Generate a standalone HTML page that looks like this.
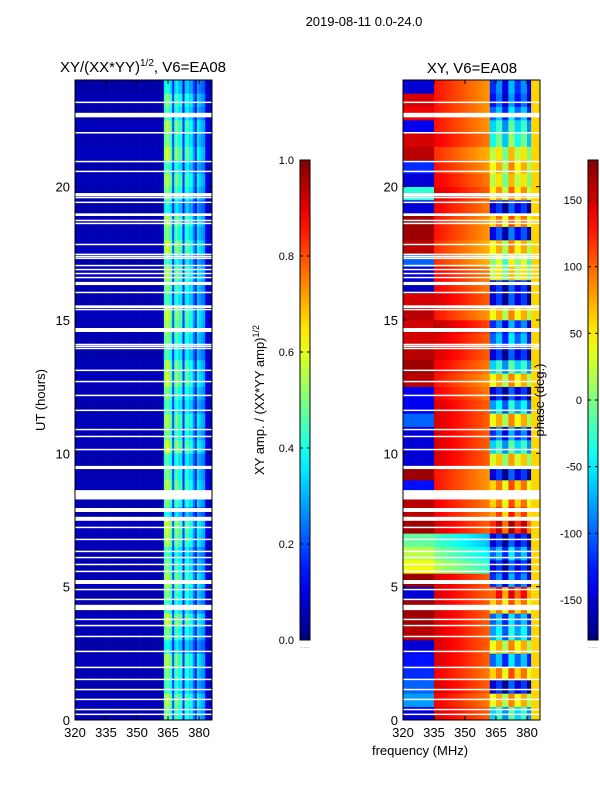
<!DOCTYPE html>
<html><head><meta charset="utf-8"><style>
body{margin:0;background:#fff;}
svg text{font-family:"Liberation Sans",sans-serif;}
</style></head><body>
<svg id="fig" width="600" height="800" xmlns="http://www.w3.org/2000/svg">
<rect width="600" height="800" fill="#fff"/>
<text x="364" y="26" font-size="13" text-anchor="middle">2019-08-11 0.0-24.0</text>
<text x="143" y="72" font-size="15" text-anchor="middle">XY/(XX*YY)<tspan font-size="10" dy="-6">1/2</tspan><tspan dy="6">, V6=EA08</tspan></text>
<text x="472" y="73" font-size="15" text-anchor="middle">XY, V6=EA08</text>
<g id="left"></g>
<g id="right"></g>
<g id="axes"></g>
<text transform="translate(45,400) rotate(-90)" font-size="13" text-anchor="middle">UT (hours)</text>
<text x="420" y="755" font-size="13" text-anchor="middle">frequency (MHz)</text>
<text transform="translate(264,400) rotate(-90)" font-size="13" text-anchor="middle">XY amp. / (XX*YY amp)<tspan font-size="9" dy="-5">1/2</tspan></text>
<text transform="translate(544,400) rotate(-90)" font-size="13" text-anchor="middle">phase (deg.)</text>
</svg>
<script>
// ---- data ----
const freqStart = 320, freqCount = 66; // 1 MHz bins 320..385
const ampProfile = [0.05,0.05,0.05,0.05,0.05,0.05,0.05,0.05,0.05,0.05,0.05,0.05,0.05,0.05,0.05,0.05,0.05,0.05,0.05,0.05,0.05,0.05,0.05,0.05,0.05,0.05,0.05,0.05,0.05,0.05,0.05,0.05,0.05,0.05,0.05,0.05,0.05,0.05,0.05,0.05,0.05,0.05,0.05,
 0.45,0.52,0.48,0.42,0.2,0.42,0.46,0.38,0.4,0.16,0.38,0.42,0.34,0.36,0.25,0.16,0.34,0.3,0.28,0.26,0.1,0.07,0.07];
// row scale, 0.5 h rows from 0h to 24h
const ampRowScale = [1.0,1.1,0.9,1.0,1.1,0.8,1.0,1.15,0.9,1.0,1.1,1.0,0.9,1.1,1.15,0.8,1.0,1.1,1.0,0.9,1.15,1.0,1.1,0.9,1.0,1.15,1.1,0.9,1.0,1.1,1.15,0.9,1.0,1.1,0.9,1.15,1.0,1.1,0.8,1.0,1.1,0.9,1.15,1.0,1.1,0.9,1.0,0.8];
// phase per 0.5 h row, listed from 0h upward
const phaseLow = [-150,-80,-100,-120,-130,-150,160,170,170,-150,170,40,20,-10,170,160,160,-130,170,-150,-150,-150,-100,-140,-140,160,170,160,150,150,160,150,-160,-150,-100,160,170,170,-150,-30,-150,-120,160,150,-140,140,150,-150];
const phaseMid = [150,140,150,140,150,150,150,150,150,150,150,20,0,-20,150,140,140,130,130,150,150,150,150,150,140,130,140,150,150,160,130,150,140,140,120,120,130,130,140,150,140,130,120,140,130,130,130,130];
const phaseHi = [-60,40,-150,60,-100,40,-80,-100,60,100,-120,-150,-100,-150,120,80,60,60,-150,30,-60,-120,40,-80,-150,40,-60,-150,-100,-120,40,-150,-150,20,0,40,-140,60,-150,50,20,40,20,-40,-60,-100,-130,-120];
const hiShift = [0,35,-25,50];
const gapStart = [23.14,22.6,22.0,20.92,20.55,19.64,19.57,19.39,18.9,18.71,18.6,17.81,17.44,17.36,17.29,17.02,16.87,16.72,16.57,16.31,16.01,15.45,15.37,14.55,14.06,13.99,13.91,13.09,12.67,12.15,11.59,10.87,10.61,10.12,9.41,8.27,7.8,7.47,7.2,6.75,6.3,6.07,5.81,5.55,5.1,4.87,4.5,4.12,3.75,3.52,3.11,2.55,1.95,1.5,1.12,0.75,0.37,0.19];
const gapDur = [0.05,0.17,0.05,0.05,0.05,0.12,0.05,0.05,0.1,0.05,0.05,0.05,0.05,0.05,0.05,0.05,0.05,0.05,0.05,0.12,0.05,0.1,0.05,0.15,0.05,0.05,0.05,0.05,0.05,0.05,0.05,0.05,0.05,0.05,0.12,0.35,0.15,0.15,0.05,0.05,0.05,0.05,0.05,0.05,0.15,0.05,0.05,0.2,0.05,0.05,0.05,0.05,0.05,0.05,0.05,0.05,0.05,0.05];
const xTicks = [320,335,350,365,380];
const yTicks = [0,5,10,15,20];
const ampTicks = ["0.0","0.2","0.4","0.6","0.8","1.0"];
const phaseTicks = [-150,-100,-50,0,50,100,150];

// ---- helpers ----
const NS="http://www.w3.org/2000/svg";
function jet(v){v=Math.max(0,Math.min(1,v));
 const r=Math.min(1,Math.max(0,Math.min(4*v-1.5,-4*v+4.5)));
 const g=Math.min(1,Math.max(0,Math.min(4*v-0.5,-4*v+3.5)));
 const b=Math.min(1,Math.max(0,Math.min(4*v+0.5,-4*v+2.5)));
 return `rgb(${Math.round(r*255)},${Math.round(g*255)},${Math.round(b*255)})`;}
function mk(tag,attrs,parent){const e=document.createElementNS(NS,tag);for(const k in attrs)e.setAttribute(k,attrs[k]);parent.appendChild(e);return e;}
const Y0=720,Y1=80;
function yScale(h){return Y0-(h/24)*(Y0-Y1);}
function xScale(x0,f){return x0+(f-320)*(137/66.3);}
const svg=document.getElementById('fig');
const axes=document.getElementById('axes');

function drawPanel(gid,x0,valueFn,name){
 const g=document.getElementById(gid);
 for(let r=0;r<48;r++){for(let c=0;c<freqCount;c++){
  const f=freqStart+c;
  const xa=xScale(x0,f), xb=Math.min(xScale(x0,f+1),x0+137);
  const ya=yScale((r+1)*0.5), yb=yScale(r*0.5);
  const el=mk('rect',{x:xa.toFixed(2),y:ya.toFixed(2),width:(xb-xa+0.3).toFixed(2),height:(yb-ya+0.3).toFixed(2),fill:jet(valueFn(r,c,f))},g);
  
  
 }}
 for(let i=0;i<gapStart.length;i++){
  const ya=yScale(gapStart[i]+gapDur[i]), yb=yScale(gapStart[i]);
  const el=mk('rect',{x:x0,y:ya.toFixed(2),width:137,height:Math.max(1.5,yb-ya).toFixed(2),fill:'#fff'},g);
  
  
 }
 const fr=mk('rect',{x:x0,y:Y1,width:137,height:Y0-Y1,fill:'none',stroke:'#000','stroke-width':1},axes);
 
 
 xTicks.forEach(t=>{const x=xScale(x0,t);
  mk('line',{x1:x,x2:x,y1:Y0,y2:Y0-4,stroke:'#000'},axes);
  mk('line',{x1:x,x2:x,y1:Y1,y2:Y1+4,stroke:'#000'},axes);
  const tx=mk('text',{x:x,y:737,'font-size':13,'text-anchor':'middle'},axes);tx.textContent=t;
  
  });
 yTicks.forEach(t=>{const y=yScale(t);
  mk('line',{x1:x0,x2:x0+4,y1:y,y2:y,stroke:'#000'},axes);
  mk('line',{x1:x0+137,x2:x0+133,y1:y,y2:y,stroke:'#000'},axes);
  const tx=mk('text',{x:x0-5,y:y+5,'font-size':13,'text-anchor':'end'},axes);tx.textContent=t;
  
  });
}
drawPanel('left',75,(r,c)=>ampProfile[c]*ampRowScale[r],'amplitude');
drawPanel('right',403,(r,c,f)=>{
 let p;
 if(f<335)p=phaseLow[r];
 else if(f<362)p=phaseMid[r]-(f-335)/27*50;
 else if(f<382)p=phaseHi[r]+hiShift[Math.floor((f-362)/3)%4];
 else p=60;
 if(p>180)p-=360; if(p<-180)p+=360;
 return (p+180)/360;},'phase');

// colorbars
function colorbar(x,ticks,vmin,vmax,name){
 const id='grad'+name;
 const defs=mk('defs',{},svg);
 const lg=mk('linearGradient',{id:id,x1:0,y1:1,x2:0,y2:0},defs);
 for(let i=0;i<=20;i++)mk('stop',{offset:i/20,'stop-color':jet(i/20)},lg);
 const cb=mk('rect',{x:x,y:160,width:10,height:480,fill:`url(#${id})`,stroke:'#000','stroke-width':1},svg);
 
 
 ticks.forEach(t=>{const v=parseFloat(t);const y=640-(v-vmin)/(vmax-vmin)*480;
  mk('line',{x1:x,x2:x+3,y1:y,y2:y,stroke:'#000'},svg);
  mk('line',{x1:x+10,x2:x+7,y1:y,y2:y,stroke:'#000'},svg);
  const tx=mk('text',{x:x-6,y:y+4,'font-size':11,'text-anchor':'end'},svg);tx.textContent=t;
  
  });
 const d=mk('text',{x:x+5,y:648,'font-size':6,'text-anchor':'middle',fill:'#888'},svg);d.textContent='......';
}
colorbar(300,ampTicks,0,1,'amplitude');
colorbar(588,phaseTicks,-180,180,'phase');
</script>
</body></html>
